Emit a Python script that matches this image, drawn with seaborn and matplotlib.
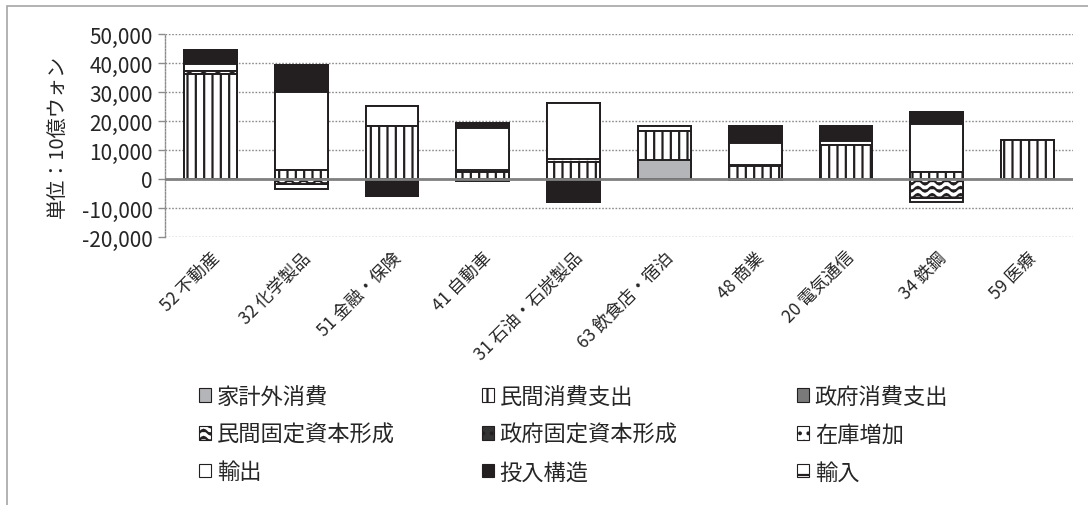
import warnings
import numpy as np
import pandas as pd
import matplotlib
matplotlib.use("Agg")
import matplotlib.pyplot as plt
import matplotlib.hatch as mhatch
from matplotlib.path import Path
from matplotlib.patches import Patch, Rectangle
import seaborn as sns

warnings.filterwarnings("ignore")

categories = ["52 不動産", "32 化学製品", "51 金融・保険", "41 自動車", "31 石油・石炭製品",
              "63 飲食店・宿泊", "48 商業", "20 電気通信", "34 鉄鋼", "59 医療"]

household_ext = [0, 0, 0, 0, 0, 6400, 0, 0, 0, 0]            # 家計外消費
private_cons = [36100, 3000, 18300, 2500, 5800, 10200, 4500, 11700, 2400, 13600]  # 民間消費支出
gov_cons = [0, 0, 0, 0, 0, 0, 0, 0, 0, 0]                     # 政府消費支出
private_gfcf = [1300, -1700, 0, 0, -300, 0, 0, 0, -6600, 0]   # 民間固定資本形成
gov_gfcf = [0, 0, 0, 0, 0, 0, 0, 0, 0, 0]                     # 政府固定資本形成
inventory = [0, 0, 0, 500, 1200, 0, 500, 0, 0, 0]            # 在庫増加
exports = [2200, 27000, 6800, 14500, 19300, 1800, 7500, 1300, 16600, 0]  # 輸出
input_struct = [5000, 9200, -5700, 1900, -7500, 0, 5800, 5200, 4200, 0]  # 投入構造
imports = [0, -1800, 0, -800, 0, 0, -500, 0, -1200, 0]       # 輸入

series_names = ["家計外消費", "民間消費支出", "政府消費支出", "民間固定資本形成",
                "政府固定資本形成", "在庫増加", "輸出", "投入構造", "輸入"]
series_values = [household_ext, private_cons, gov_cons, private_gfcf, gov_gfcf,
                 inventory, exports, input_struct, imports]


# custom wavy hatch ("~")
class WaveHatch(mhatch.HatchPatternBase):
    def __init__(self, hatch, density):
        n = hatch.count("~")
        self.num_rows = 14 * n
        self.num_periods = 7
        self.pts = self.num_periods * 8 + 1
        self.num_vertices = self.num_rows * self.pts if n else 0

    def set_vertices_and_codes(self, vertices, codes):
        xs = np.linspace(0, 1, self.pts)
        amp = 0.33 / self.num_rows
        idx = 0
        for r in range(self.num_rows):
            y0 = (r + 0.5) / self.num_rows
            vertices[idx:idx + self.pts, 0] = xs
            vertices[idx:idx + self.pts, 1] = y0 + amp * np.sin(2 * np.pi * self.num_periods * xs)
            codes[idx] = Path.MOVETO
            codes[idx + 1:idx + self.pts] = Path.LINETO
            idx += self.pts


mhatch._hatch_types.append(WaveHatch)

styles = {
    "家計外消費": ("#b4b5b8", None),
    "民間消費支出": ("white", "||"),
    "政府消費支出": ("#7a7a7a", None),
    "民間固定資本形成": ("white", "~"),
    "政府固定資本形成": ("#333333", ".."),
    "在庫増加": ("white", ".."),
    "輸出": ("white", None),
    "投入構造": ("#231f20", None),
    "輸入": ("white", "-"),
}

sns.set_theme(style="white")
plt.rcParams["font.family"] = ["Noto Sans CJK JP", "DejaVu Sans"]
plt.rcParams["hatch.linewidth"] = 1.6
plt.rcParams["hatch.color"] = "#231f20"

fig = plt.figure(figsize=(10.88, 5.06), dpi=100)
ax = fig.add_axes([165 / 1088, 1 - 238 / 506, (1073 - 165) / 1088, (238 - 35) / 506])

vals = np.array(series_values, dtype=float)
pos_cum = np.cumsum(np.clip(vals, 0, None), axis=0)
neg_cum = np.cumsum(np.clip(vals, None, 0), axis=0)

edge = "#231f20"
for cum in (pos_cum, neg_cum):
    for k in range(len(series_names) - 1, -1, -1):
        fc, h = styles[series_names[k]]
        df = pd.DataFrame({"cat": categories, "v": cum[k]})
        sns.barplot(data=df, x="cat", y="v", order=categories, color=fc, saturation=1,
                    width=0.58, edgecolor=edge, linewidth=1.4, hatch=h,
                    errorbar=None, ax=ax, zorder=3)

ax.set_ylim(-20000, 50000)
ax.set_yticks(np.arange(-20000, 50001, 10000))
ax.yaxis.set_major_formatter(matplotlib.ticker.FuncFormatter(lambda v, p: f"{int(v):,}"))
ax.grid(axis="y", linestyle=(0, (1.2, 1.2)), color="#8c8c8c", linewidth=1.0, zorder=0)
ax.axhline(0, color="#808080", linewidth=2.0, zorder=4)
for s in ["top", "right", "bottom"]:
    ax.spines[s].set_visible(False)
ax.spines["left"].set_linestyle((0, (1.2, 1.2)))
ax.spines["left"].set_color("#8c8c8c")
ax.spines["left"].set_linewidth(1.0)
ax.tick_params(axis="y", which="major", left=True, length=5, width=1, color="#8c8c8c",
               labelsize=15, labelcolor="#262626", pad=4)
ax.tick_params(axis="x", bottom=False, labelsize=12.5, labelcolor="#262626", pad=2)
ax.set_xlim(-0.5, len(categories) - 0.5)
plt.setp(ax.get_xticklabels(), rotation=45, ha="right", rotation_mode="anchor")
ax.set_xlabel("")
ax.set_ylabel("単位：10億ウォン", fontsize=14.5, color="#262626", labelpad=10)

# outer chart frame
fig.add_artist(Rectangle((7 / 1088, -0.2), 1.2, 1.2 - 7 / 506, transform=fig.transFigure,
                         fill=False, edgecolor="#a6a6a6", linewidth=1.2))

handles = {n: Patch(facecolor=styles[n][0], hatch=styles[n][1], edgecolor=edge, linewidth=0.8)
           for n in series_names}
cols = [["家計外消費", "民間固定資本形成", "輸出"],
        ["民間消費支出", "政府固定資本形成", "投入構造"],
        ["政府消費支出", "在庫増加", "輸入"]]
xs = [199 / 1088, 482 / 1088, 797 / 1088]
for names, x in zip(cols, xs):
    leg = fig.legend([handles[n] for n in names], names, loc="upper left",
                     bbox_to_anchor=(x, 1 - 386 / 506), frameon=False, fontsize=16,
                     handlelength=0.55, handleheight=0.55, handletextpad=0.25,
                     labelspacing=0.66, borderpad=0, borderaxespad=0)
    for t in leg.get_texts():
        t.set_color("#262626")

fig.savefig("out.png", dpi=100)
